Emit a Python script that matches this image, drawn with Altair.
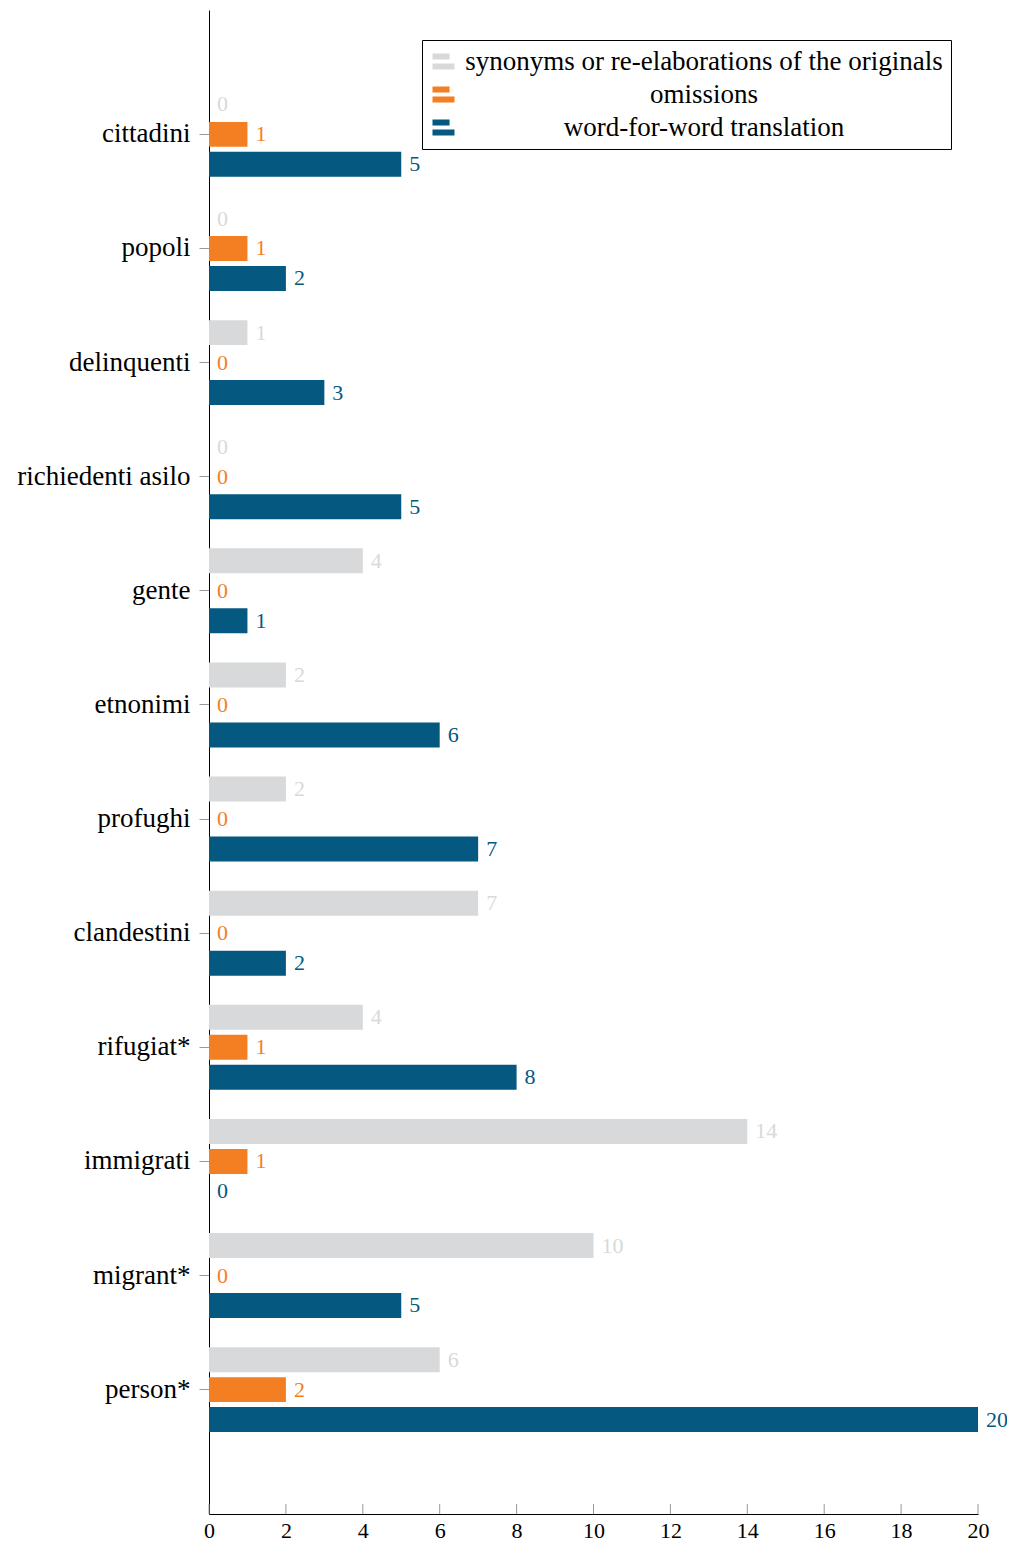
import altair as alt
import pandas as pd

categories = ["cittadini", "popoli", "delinquenti", "richiedenti asilo", "gente",
              "etnonimi", "profughi", "clandestini", "rifugiat*", "immigrati",
              "migrant*", "person*"]
series = ["synonyms or re-elaborations of the originals", "omissions",
          "word-for-word translation"]
synonyms = [0, 0, 1, 0, 4, 2, 2, 7, 4, 14, 10, 6]
omissions = [1, 1, 0, 0, 0, 0, 0, 0, 1, 1, 0, 2]
word_for_word = [5, 2, 3, 5, 1, 6, 7, 2, 8, 0, 5, 20]
colors = ["#d8d9da", "#f47e22", "#05587f"]
x_ticks = [0, 2, 4, 6, 8, 10, 12, 14, 16, 18, 20]

rows = []
for s, vals in zip(series, [synonyms, omissions, word_for_word]):
    for c, v in zip(categories, vals):
        rows.append({"category": c, "series": s, "value": v})
df = pd.DataFrame(rows)

FONT = "Liberation Serif"
W, H = 769, 1504

color_scale = alt.Scale(domain=series, range=colors)
y_enc = alt.Y("category:N", sort=categories,
              scale=alt.Scale(paddingInner=0, paddingOuter=0.59),
              axis=alt.Axis(title=None, labelFontSize=27, labelFont=FONT,
                            labelColor="black", domainColor="black",
                            domainWidth=1, tickColor="#999999", tickSize=10,
                            labelPadding=9))
yoff_enc = alt.YOffset("series:N", sort=series,
                       scale=alt.Scale(paddingInner=0.167, paddingOuter=0.487))
x_enc = alt.X("value:Q", scale=alt.Scale(domain=[0, 20], nice=False),
              axis=alt.Axis(title=None, values=x_ticks, grid=False, ticks=False,
                            labelFontSize=22, labelFont=FONT, labelColor="black",
                            domainColor="black", labelPadding=6,
                            labelFlush=False))

bars = alt.Chart(df).mark_bar(cornerRadius=0).encode(
    x=x_enc, y=y_enc, yOffset=yoff_enc,
    color=alt.Color("series:N", scale=color_scale, sort=series,
                    legend=alt.Legend(title=None, orient="none", legendX=213,
                                      legendY=30, strokeColor="black",
                                      padding=8, labelFont=FONT,
                                      labelFontSize=27, labelColor="black",
                                      symbolType="M-1,-0.73H0.55V-0.18H-1Z M-1,0.18H1V0.73H-1Z",
                                      symbolSize=484, symbolStrokeWidth=0,
                                      rowPadding=5, labelAlign="center",
                                      labelOffset=247,
                                      labelLimit=600, cornerRadius=0)))

labels = alt.Chart(df).mark_text(align="left", baseline="middle", dx=8,
                                 fontSize=22, font=FONT).encode(
    x="value:Q", y=alt.Y("category:N", sort=categories), yOffset=yoff_enc,
    text="value:Q",
    color=alt.Color("series:N", scale=color_scale, sort=series, legend=None))

tick_df = pd.DataFrame({"t": x_ticks})
ticks = alt.Chart(tick_df).mark_rule(color="#999999", strokeWidth=1).encode(
    x="t:Q", y=alt.value(H - 10), y2=alt.value(H))

chart = alt.layer(bars, labels, ticks).properties(
    width=W, height=H,
    autosize=alt.AutoSizeParams(type="none"),
    padding={"left": 201, "top": 2, "right": 29, "bottom": 27},
).configure_view(stroke=None)

chart.save("out.html", embed_options={"renderer": "svg", "actions": False})
